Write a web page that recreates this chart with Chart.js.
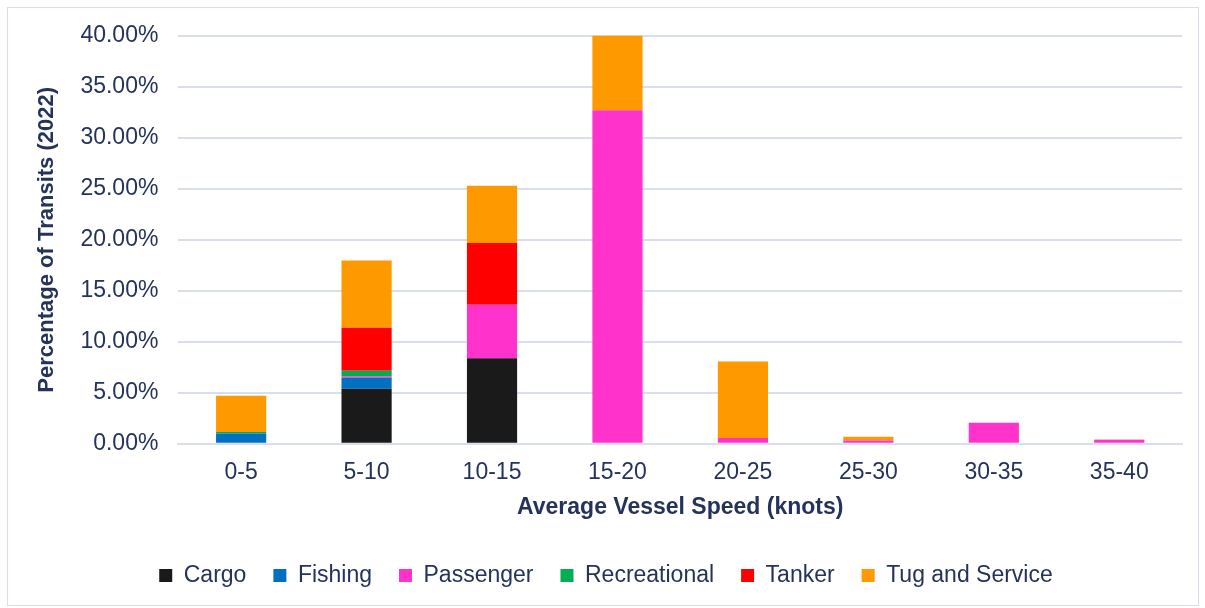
<!DOCTYPE html>
<html>
<head>
<meta charset="utf-8">
<script src="https://cdn.jsdelivr.net/npm/chart.js@4/dist/chart.umd.min.js"></script>
<style>
  html, body { margin: 0; padding: 0; background: #fff; }
  #wrap { position: absolute; left: 7px; top: 7px; width: 1190px; height: 597px; border: 1px solid #d9deef; overflow: hidden; }
  #inner { position: absolute; left: 0; right: 0; top: -6px; bottom: 0; }
</style>
</head>
<body>
<div id="wrap"><div id="inner"><canvas id="speedChart"></canvas></div></div>
<script>
var speedBins = ['0-5', '5-10', '10-15', '15-20', '20-25', '25-30', '30-35', '35-40'];
var cargo = [0, 5.4, 8.38, 0, 0, 0, 0, 0];
var fishing = [1.0, 1.07, 0, 0, 0, 0, 0, 0];
var passenger = [0, 0.15, 5.25, 32.7, 0.56, 0.33, 2.06, 0.39];
var recreational = [0.15, 0.55, 0, 0, 0, 0, 0, 0];
var tanker = [0, 4.2, 6.06, 0, 0, 0, 0, 0];
var tugService = [3.55, 6.6, 5.6, 7.4, 7.5, 0.36, 0, 0.03];

var textColor = '#25335a';
var gridColor = '#d9deef';
var font = 'Liberation Sans, Arial, sans-serif';

function series(label, data, color) {
    return { label: label, data: data, backgroundColor: color, borderWidth: 0,
             barPercentage: 0.4, categoryPercentage: 1.0 };
}

var ctx = document.getElementById('speedChart').getContext('2d');
var chart = new Chart(ctx, {
    type: 'bar',
    data: {
        labels: speedBins,
        datasets: [
            series('Cargo', cargo, '#1a1a1a'),
            series('Fishing', fishing, '#0070c0'),
            series('Passenger', passenger, '#ff33cc'),
            series('Recreational', recreational, '#00b050'),
            series('Tanker', tanker, '#ff0000'),
            series('Tug and Service', tugService, '#ff9900')
        ]
    },
    options: {
        responsive: true,
        maintainAspectRatio: false,
        animation: false,
        layout: { padding: { left: 22, right: 16, top: 8, bottom: 8 } },
        plugins: {
            tooltip: { enabled: false },
            legend: {
                position: 'bottom',
                labels: {
                    color: textColor,
                    font: { family: font, size: 23 },
                    boxWidth: 13,
                    boxHeight: 13,
                    padding: 27
                }
            }
        },
        scales: {
            x: {
                stacked: true,
                grid: { display: false },
                border: { color: gridColor, width: 2 },
                ticks: { color: textColor, font: { family: font, size: 23 }, padding: 7 },
                title: {
                    display: true,
                    text: 'Average Vessel Speed (knots)',
                    color: textColor,
                    font: { family: font, size: 23, weight: 'bold' },
                    padding: { top: 0, bottom: 16 }
                }
            },
            y: {
                stacked: true,
                min: 0,
                max: 40,
                ticks: {
                    stepSize: 5,
                    color: textColor,
                    font: { family: font, size: 23 },
                    padding: 20,
                    callback: function (v) { return v.toFixed(2) + '%'; }
                },
                grid: { color: gridColor, lineWidth: 2, drawTicks: false },
                border: { display: false },
                title: {
                    display: true,
                    text: 'Percentage of Transits (2022)',
                    color: textColor,
                    font: { family: font, size: 22, weight: 'bold' },
                    padding: { bottom: 0 }
                }
            }
        }
    }
});
</script>
</body>
</html>
